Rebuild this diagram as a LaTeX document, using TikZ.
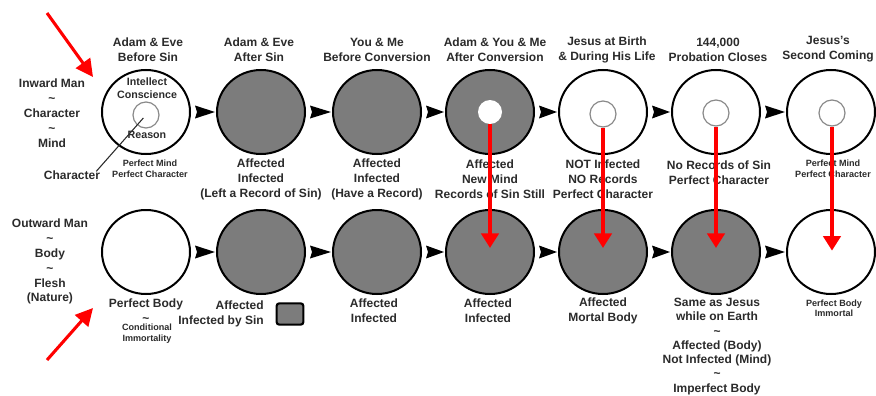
\documentclass[tikz,border=0pt]{standalone}
\usepackage{fontspec}
\setmainfont{Liberation Sans}
\usetikzlibrary{shapes.geometric,arrows.meta,calc}
\definecolor{txt}{HTML}{2B2B2B}
\definecolor{sin}{HTML}{7C7C7C}
\definecolor{ring}{HTML}{8A8A8A}
\definecolor{mark}{HTML}{FF0000}
\tikzset{
  lbl/.style={font=\fontsize{9}{11.2}\selectfont\bfseries, text=txt, align=center, inner sep=0pt},
  mid/.style={font=\fontsize{8}{9.75}\selectfont\bfseries, text=txt, align=center, inner sep=0pt},
  sml/.style={font=\fontsize{6.8}{8.6}\selectfont\bfseries, text=txt, align=center, inner sep=0pt},
  stage/.style={ellipse, draw=black, line width=1.5pt, minimum width=66pt, minimum height=63pt, inner sep=0pt},
  sinful/.style={stage, fill=sin},
  pure/.style={stage, fill=white},
  core/.style={circle, draw=ring, line width=0.9pt, minimum size=19.5pt, inner sep=0pt},
  newmind/.style={circle, fill=white, minimum size=18pt, inner sep=0pt},
  redarrow/.style={draw=mark, line width=3pt, -{Triangle[length=11pt,width=13pt]}},
  pointer/.style={draw=mark, line width=2.3pt, -{Triangle[length=13pt,width=13pt]}},
  legendbox/.style={rectangle, rounded corners=2pt, draw=black, line width=1.6pt, fill=sin, minimum width=20pt, minimum height=16pt, inner sep=0pt},
}
\newcommand{\flowtip}[2]{\fill[black] ($(#1.east)+(4,-6.5)$) -- ($(#2.west)+(-1,0)$) -- ($(#1.east)+(4,6.5)$) -- ($(#1.east)+(6,0)$) -- cycle;}
\begin{document}
\begin{tikzpicture}[x=0.75pt,y=-0.75pt]
\useasboundingbox (0,0) rectangle (876,396);
\fill[white] (0,0) rectangle (876,396);

% top row circles
\node[pure]   (t1) at (146,112) {};
\node[sinful] (t2) at (261,112) {};
\node[sinful] (t3) at (377,112) {};
\node[sinful] (t4) at (490,112) {};
\node[pure]   (t5) at (603,112) {};
\node[pure]   (t6) at (716,112) {};
\node[pure]   (t7) at (831,112) {};
% bottom row circles
\node[pure]   (b1) at (146,252) {};
\node[sinful] (b2) at (261,252) {};
\node[sinful] (b3) at (377,252) {};
\node[sinful] (b4) at (490,252) {};
\node[sinful] (b5) at (603,252) {};
\node[sinful] (b6) at (716,252) {};
\node[pure]   (b7) at (831,252) {};

% inner circles
\node[core]    (c1) at (146,115) {};
\node[newmind] (c4) at (490,112) {};
\node[core]    (c5) at (603,114) {};
\node[core]    (c6) at (716,113) {};
\node[core]    (c7) at (832,113) {};

% flow arrowheads
\flowtip{t1}{t2}\flowtip{t2}{t3}\flowtip{t3}{t4}\flowtip{t4}{t5}\flowtip{t5}{t6}\flowtip{t6}{t7}
\flowtip{b1}{b2}\flowtip{b2}{b3}\flowtip{b3}{b4}\flowtip{b4}{b5}\flowtip{b5}{b6}\flowtip{b6}{b7}

% headers
\node[lbl] (h1) at (148,49.5) {Adam \& Eve\\Before Sin};
\node[lbl] (h2) at (259,49.5) {Adam \& Eve\\After Sin};
\node[lbl] (h3) at (377,49.5) {You \& Me\\Before Conversion};
\node[lbl] (h4) at (495,49.5) {Adam \& You \& Me\\After Conversion};
\node[lbl] (h5) at (607,49.5) {Jesus at Birth\\\& During His Life};
\node[lbl] (h6) at (718,49.5) {144,000\\Probation Closes};
\node[lbl] (h7) at (828,49.5) {Jesus's\\Second Coming};

% left labels
\node[lbl] (inward) at (52,113) {Inward Man\\\textasciitilde\\Character\\\textasciitilde\\Mind};
\node[lbl] (outward) at (50,261.5) {Outward Man\\\textasciitilde\\Body\\\textasciitilde\\Flesh\\(Nature)};

% inside circle 1
\node[mid] (intel) at (147,88.5) {Intellect\\Conscience};
\node[mid] (reason) at (147,135) {Reason};

% character pointer
\node[lbl] (charlbl) at (72,175) {Character};
\draw[txt, line width=0.8pt, shorten >=3pt] ($(charlbl.north east)+(-4,1)$) -- (c1.center);

% top row captions
\node[sml] (p1) at (150,169) {Perfect Mind\\Perfect Character};
\node[lbl] (p2) at (261,179) {Affected\\Infected\\(Left a Record of Sin)};
\node[lbl] (p3) at (377,179) {Affected\\Infected\\(Have a Record)};
\node[lbl] (p4) at (490,179) {Affected\\New Mind\\Records of Sin Still};
\node[lbl] (p5) at (603,179) {NOT Infected\\NO Records\\Perfect Character};
\node[lbl] (p6) at (719,172.5) {No Records of Sin\\Perfect Character};
\node[sml] (p7) at (833,169) {Perfect Mind\\Perfect Character};

% bottom row captions
\node[lbl] (q1) at (146,310.5) {Perfect Body\\\textasciitilde};
\node[sml] (q1b) at (147,333.5) {Conditional\\Immortality};
\node[lbl, align=right, anchor=east] (q2) at (264,314) {Affected\\Infected by Sin};
\node[legendbox] (legend) at (290,314) {};
\node[lbl] (q3) at (374,311) {Affected\\Infected};
\node[lbl] (q4) at (488,311) {Affected\\Infected};
\node[lbl] (q5) at (603,311) {Affected\\Mortal Body};
\node[lbl, font=\fontsize{9}{10.7}\selectfont\bfseries] (q6) at (717,346.5) {Same as Jesus\\while on Earth\\\textasciitilde\\Affected (Body)\\Not Infected (Mind)\\\textasciitilde\\Imperfect Body};
\node[sml, font=\fontsize{6.8}{7.6}\selectfont\bfseries] (q7) at (834,308) {Perfect Body\\Immortal};

% red arrows mind -> body
\draw[redarrow, shorten >=3pt] (c4.south) -- (c4.south |- b4.center);
\draw[redarrow, shorten >=3pt] (c5.south) -- (c5.south |- b5.center);
\draw[redarrow, shorten >=3pt] (c6.south) -- (c6.south |- b6.center);
\draw[redarrow, shorten >=1pt] (c7.south) -- (c7.south |- b7.center);

% red pointer arrows at left
\coordinate (ptA) at (47,13);
\coordinate (ptAend) at (93,77);
\coordinate (ptB) at (47,360);
\coordinate (ptBend) at (93,308);
\draw[pointer] (ptA) -- (ptAend);
\draw[pointer] (ptB) -- (ptBend);
\end{tikzpicture}
\end{document}
